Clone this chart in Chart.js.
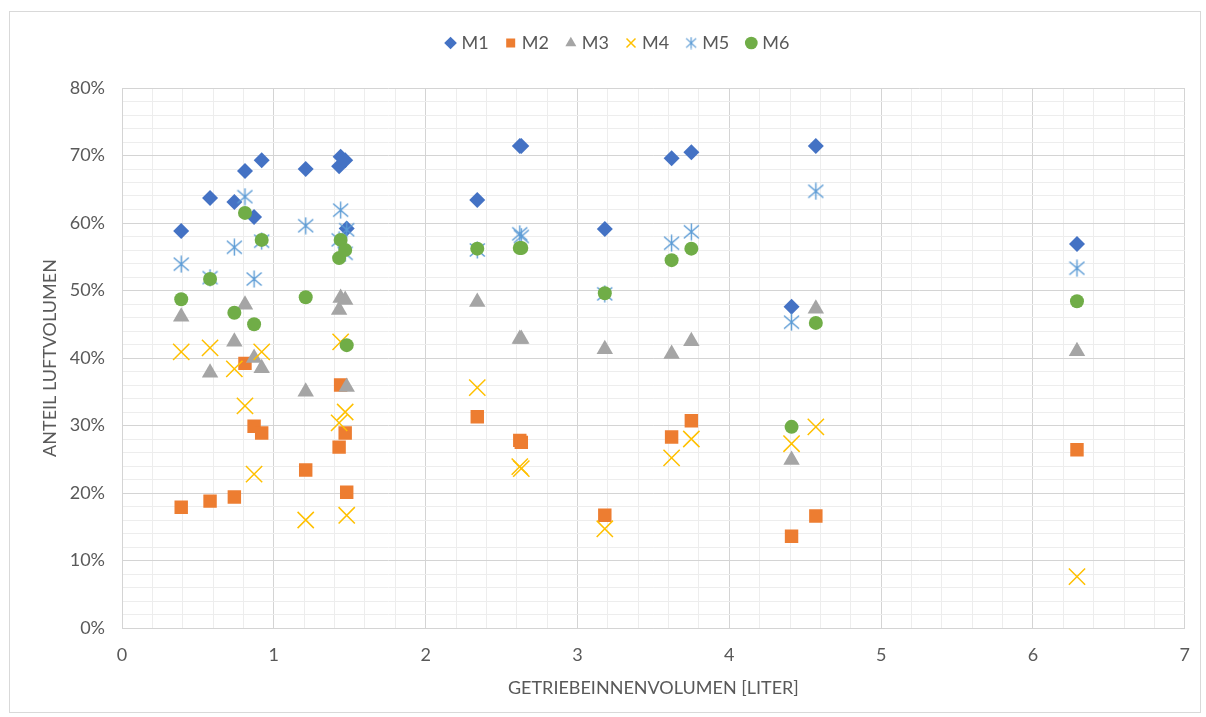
<!DOCTYPE html>
<html>
<head>
<meta charset="utf-8">
<script src="https://cdn.jsdelivr.net/npm/chart.js@4.4.1/dist/chart.umd.min.js"></script>
<style>
  html, body { margin: 0; padding: 0; background: #fff; }
</style>
</head>
<body>
<canvas id="chart" width="1206" height="717"></canvas>
<script>
// gearbox volumes (liter) and air share (%) per series
const volumes = [0.39, 0.58, 0.74, 0.81, 0.87, 0.92, 1.21, 1.43, 1.44, 1.47, 1.48, 2.34, 2.62, 2.63, 3.18, 3.62, 3.75, 4.41, 4.57, 6.29];
const m1 = [58.8, 63.7, 63.1, 67.7, 60.9, 69.3, 68.0, 68.4, 69.8, 69.3, 59.2, 63.4, 71.4, 71.4, 59.1, 69.6, 70.5, 47.6, 71.4, 56.9];
const m2 = [17.9, 18.8, 19.4, 39.2, 29.9, 28.9, 23.4, 26.8, 36.0, 28.9, 20.1, 31.3, 27.8, 27.5, 16.7, 28.3, 30.7, 13.6, 16.6, 26.4];
const m3 = [46.1, 37.8, 42.4, 47.9, 40.0, 38.5, 35.0, 47.1, 48.9, 48.6, 35.7, 48.3, 42.8, 42.8, 41.3, 40.6, 42.5, 24.9, 47.3, 41.0];
const m4 = [40.9, 41.5, 38.4, 32.9, 22.8, 40.9, 16.0, 30.4, 42.4, 32.0, 16.7, 35.6, 23.9, 23.6, 14.7, 25.2, 28.0, 27.3, 29.8, 7.6];
const m5 = [53.9, 51.9, 56.4, 63.9, 51.7, 57.3, 59.6, 57.5, 61.9, 55.5, 59.0, 56.0, 58.4, 58.0, 49.5, 57.0, 58.7, 45.3, 64.7, 53.3];
const m6 = [48.7, 51.7, 46.7, 61.5, 45.0, 57.5, 49.0, 54.8, 57.5, 56.0, 41.9, 56.2, 56.3, 56.3, 49.6, 54.5, 56.2, 29.8, 45.2, 48.4];

const FONT = 'Lato, "Open Sans", sans-serif';
const TEXT = '#595959';
const MAJOR = '#d4d4d4';
const MINOR = '#ededed';

// Excel style asterisk marker: vertical bar plus a flat X
function makeStar(w, h, color, lw) {
  const c = document.createElement('canvas');
  c.width = w; c.height = h;
  const g = c.getContext('2d');
  const cx = w / 2, cy = h / 2;
  g.strokeStyle = color;
  g.lineWidth = lw;
  g.beginPath();
  g.moveTo(cx, 0.5); g.lineTo(cx, h - 0.5);
  const dx = w / 2 - 1, dy = h * 0.36;
  g.moveTo(cx - dx, cy - dy); g.lineTo(cx + dx, cy + dy);
  g.moveTo(cx + dx, cy - dy); g.lineTo(cx - dx, cy + dy);
  g.stroke();
  return c;
}
const starBig = makeStar(17, 18, '#5B9BD5', 1.4);
const starSmall = makeStar(12, 13, '#5B9BD5', 1.2);

function pts(ys) {
  return ys.map(function(y, i) { return {x: volumes[i], y: y}; });
}
function whole(v) { return Math.abs(v - Math.round(v)) < 1e-6; }

// frame round the whole chart, fixed legend height, legend nudged right
const framePlugin = {
  id: 'frame',
  beforeLayout(chart) {
    const lg = chart.legend;
    if (lg && !lg._patched) {
      const fit = lg.fit;
      lg.fit = function() { fit.call(this); this.height = 74; };
      lg._patched = true;
    }
  },
  afterLayout(chart) {
    if (chart.legend) chart.legend.left += 50;
  },
  beforeDraw(chart) {
    const ctx = chart.ctx;
    ctx.save();
    ctx.strokeStyle = '#d9d9d9';
    ctx.lineWidth = 1;
    ctx.strokeRect(9.5, 11.5, 1191, 701);
    ctx.restore();
  }
};

const ds = [
  {label: 'M1', data: pts(m1), pointStyle: 'rectRot', pointRadius: 8, backgroundColor: '#4472C4', borderColor: '#4472C4', pointBorderWidth: 0, order: 6},
  {label: 'M2', data: pts(m2), pointStyle: 'rect', pointRadius: 9.5, backgroundColor: '#ED7D31', borderColor: '#ED7D31', pointBorderWidth: 0, order: 5},
  {label: 'M3', data: pts(m3), pointStyle: 'triangle', pointRadius: 9.5, backgroundColor: '#A5A5A5', borderColor: '#A5A5A5', pointBorderWidth: 0, order: 4},
  {label: 'M4', data: pts(m4), pointStyle: 'crossRot', pointRadius: 11.5, backgroundColor: '#FFC000', borderColor: '#FFC000', pointBorderWidth: 1.5, order: 3},
  {label: 'M5', data: pts(m5), pointStyle: starBig, pointRadius: 8, backgroundColor: '#5B9BD5', borderColor: '#5B9BD5', pointBorderWidth: 0, order: 2},
  {label: 'M6', data: pts(m6), pointStyle: 'circle', pointRadius: 7, backgroundColor: '#70AD47', borderColor: '#70AD47', pointBorderWidth: 0, order: 1}
];

new Chart('chart', {
  type: 'scatter',
  data: { datasets: ds },
  options: {
    responsive: false,
    animation: false,
    layout: { padding: { top: 14, right: 18, left: 0, bottom: 0 } },
    plugins: {
      tooltip: { enabled: false },
      legend: {
        position: 'top',
        labels: {
          usePointStyle: true,
          boxWidth: 4,
          boxHeight: 9,
          padding: 20,
          color: TEXT,
          font: { family: FONT, size: 18 },
          sort: function(a, b) { return a.datasetIndex - b.datasetIndex; },
          generateLabels: function(chart) {
            const items = Chart.defaults.plugins.legend.labels.generateLabels(chart);
            items.forEach(function(it) {
              if (it.text === 'M5') it.pointStyle = starSmall;
            });
            return items;
          }
        }
      }
    },
    scales: {
      x: {
        type: 'linear',
        min: 0,
        max: 7,
        afterFit: function(scale) { scale.height = 89; },
        ticks: {
          stepSize: 0.2,
          autoSkip: false,
          maxRotation: 0,
          padding: 16,
          color: TEXT,
          font: { family: FONT, size: 18 },
          callback: function(v) { return whole(v) ? String(Math.round(v)) : ''; }
        },
        grid: {
          drawTicks: false,
          color: function(c) { return whole(c.tick.value) ? MAJOR : MINOR; }
        },
        border: { color: MAJOR },
        title: {
          display: true,
          text: 'GETRIEBEINNENVOLUMEN [LITER]',
          color: TEXT,
          font: { family: FONT, size: 18 },
          padding: { top: 0, bottom: 18 }
        }
      },
      y: {
        type: 'linear',
        min: 0,
        max: 80,
        afterFit: function(scale) { scale.width = 122; },
        ticks: {
          stepSize: 2,
          autoSkip: false,
          padding: 17,
          color: TEXT,
          font: { family: FONT, size: 18 },
          callback: function(v) { return v % 10 === 0 ? v + '%' : ''; }
        },
        grid: {
          drawTicks: false,
          color: function(c) { return c.tick.value % 10 === 0 ? MAJOR : MINOR; }
        },
        border: { color: MAJOR },
        title: {
          display: true,
          text: 'ANTEIL LUFTVOLUMEN',
          color: TEXT,
          font: { family: FONT, size: 18 },
          padding: { top: 39, bottom: 0 }
        }
      }
    }
  },
  plugins: [framePlugin]
});
</script>
</body>
</html>
